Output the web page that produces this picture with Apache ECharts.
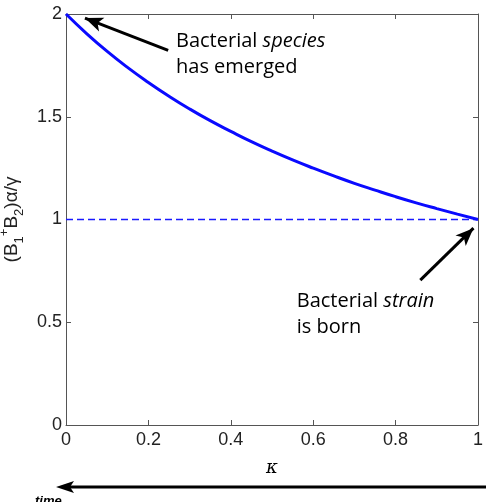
<!DOCTYPE html>
<html>
<head>
<meta charset="utf-8">
<script src="https://cdn.jsdelivr.net/npm/echarts@6/dist/echarts.min.js"></script>
<style>
  html, body { margin: 0; padding: 0; background: #fff; }
  #graph { width: 486px; height: 502px; }
</style>
</head>
<body>
<div id="graph"></div>
<script>
// kappa values and the curve
const kappa = [0, 0.05, 0.1, 0.15, 0.2, 0.25, 0.3, 0.35, 0.4, 0.45, 0.5,
  0.55, 0.6, 0.65, 0.7, 0.75, 0.8, 0.85, 0.9, 0.95, 1];
const total = [2, 1.905, 1.818, 1.739, 1.667, 1.6, 1.538, 1.481, 1.429, 1.379, 1.333,
  1.29, 1.25, 1.212, 1.176, 1.143, 1.111, 1.081, 1.053, 1.026, 1.0];
const refKappa = [0, 1];
const refLevel = [1, 1];

// annotation arrows in data coords: [from, to]
const speciesArrow = [[0.248, 1.823], [0.046, 1.98]];
const strainArrow = [[0.86, 0.705], [0.989, 0.958]];
const speciesTextAt = [0.267, 1.93];
const strainTextAt = [0.56, 0.665];

const curveData = kappa.map((k, i) => [k, total[i]]);
const refData = refKappa.map((k, i) => [k, refLevel[i]]);

const axisColor = '#555';
const labelFont = 'Liberation Sans';
const noteFont = 'Open Sans';

let myChart = echarts.init(document.getElementById('graph'));

function sideAxis(pos) {
  return {
    type: 'value', position: pos, min: 0,
    max: pos === 'top' ? 1 : 2, interval: pos === 'top' ? 0.2 : 0.5,
    axisLine: {show: true, onZero: false, lineStyle: {color: axisColor, width: 1}},
    axisTick: {show: true, inside: true, length: 5, lineStyle: {color: axisColor}},
    axisLabel: {show: false},
    splitLine: {show: false}
  };
}

myChart.setOption({
  backgroundColor: '#fff',
  animation: false,
  grid: {left: 66, right: 8, top: 14, bottom: 77, outerBoundsMode: 'none', containLabel: false},
  xAxis: [{
    type: 'value', min: 0, max: 1, interval: 0.2,
    name: 'κ', nameLocation: 'middle', nameGap: 34,
    nameTextStyle: {fontFamily: 'DejaVu Serif', fontStyle: 'italic', fontSize: 18, color: '#000'},
    axisLine: {show: true, onZero: false, lineStyle: {color: axisColor, width: 1}},
    axisTick: {show: true, inside: true, length: 5, lineStyle: {color: axisColor}},
    axisLabel: {fontFamily: labelFont, fontSize: 18, color: '#222', margin: 6},
    splitLine: {show: false}
  }, sideAxis('top')],
  yAxis: [{
    type: 'value', min: 0, max: 2, interval: 0.5,
    name: '{t|(B}{sub|1}{sup|+}{t|B}{sub|2}{t|)α/γ}',
    nameLocation: 'middle', nameGap: 34, nameRotate: 90,
    nameTextStyle: {
      color: '#222',
      rich: {
        t: {fontFamily: labelFont, fontSize: 19, color: '#222', lineHeight: 28, verticalAlign: 'middle'},
        sub: {fontFamily: labelFont, fontSize: 13, color: '#222', lineHeight: 28, verticalAlign: 'bottom'},
        sup: {fontFamily: labelFont, fontSize: 13, color: '#222', lineHeight: 28, verticalAlign: 'top'}
      }
    },
    axisLine: {show: true, onZero: false, lineStyle: {color: axisColor, width: 1}},
    axisTick: {show: true, inside: true, length: 5, lineStyle: {color: axisColor}},
    axisLabel: {fontFamily: labelFont, fontSize: 18, color: '#222', margin: 4},
    splitLine: {show: false}
  }, sideAxis('right')],
  series: [
    {
      type: 'line',
      data: refData,
      symbol: 'none',
      silent: true,
      lineStyle: {color: '#1a1aff', width: 1.5, type: [7, 4]}
    },
    {
      type: 'line',
      data: curveData,
      smooth: true,
      symbol: 'none',
      silent: true,
      lineStyle: {color: '#0a0aff', width: 3},
      markLine: {
        silent: true,
        symbol: ['none', 'arrow'],
        symbolSize: [11, 18],
        label: {show: false},
        lineStyle: {color: '#000', width: 3, type: 'solid'},
        data: [
          [{coord: speciesArrow[0]}, {coord: speciesArrow[1]}],
          [{coord: strainArrow[0]}, {coord: strainArrow[1]}]
        ]
      }
    }
  ]
});

// texts placed from data coords, time arrow below the axis
const p1 = myChart.convertToPixel({gridIndex: 0}, speciesTextAt);
const p2 = myChart.convertToPixel({gridIndex: 0}, strainTextAt);
const noteRich = {
  n: {fontFamily: noteFont, fontSize: 20, color: '#111', lineHeight: 26},
  i: {fontFamily: noteFont, fontSize: 20, fontStyle: 'italic', color: '#111', lineHeight: 26}
};
myChart.setOption({
  graphic: [
    {
      type: 'text', x: p1[0], y: p1[1], silent: true,
      style: {text: '{n|Bacterial }{i|species}\n{n|has emerged}', rich: noteRich}
    },
    {
      type: 'text', x: p2[0], y: p2[1], silent: true,
      style: {text: '{n|Bacterial }{i|strain}\n{n|is born}', rich: noteRich}
    },
    {
      type: 'line', silent: true,
      shape: {x1: 486, y1: 487, x2: 68, y2: 487},
      style: {stroke: '#000', lineWidth: 3}
    },
    {
      type: 'polygon', silent: true,
      shape: {points: [[56, 487], [74, 481], [70, 487], [74, 493]]},
      style: {fill: '#000'}
    },
    {
      type: 'text', x: 35, y: 495, silent: true,
      style: {text: 'time', fontFamily: labelFont, fontSize: 13, fontStyle: 'italic', fontWeight: 'bold', fill: '#000'}
    }
  ]
});
</script>
</body>
</html>
